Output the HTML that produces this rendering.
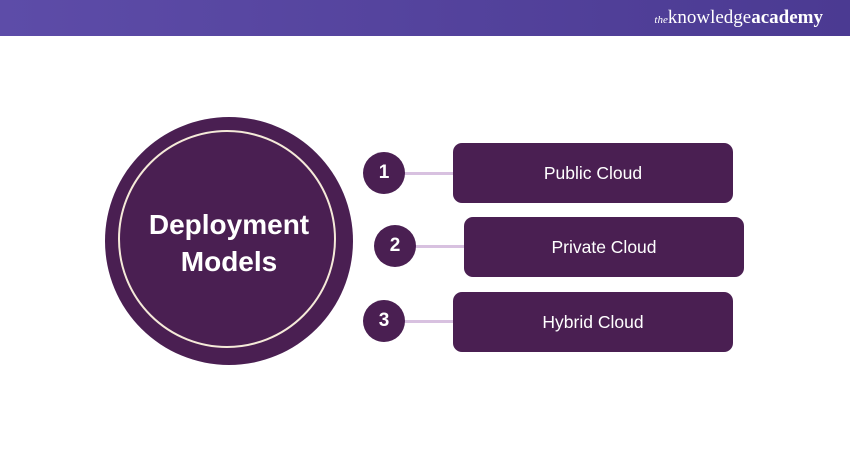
<!DOCTYPE html>
<html><head><style>
body{margin:0;width:850px;height:450px;background:#fff;overflow:hidden;font-family:"Liberation Sans",sans-serif;position:relative}
.hdr{position:absolute;left:0;top:0;width:850px;height:36px;background:linear-gradient(90deg,#5d4ca8,#4b3a92)}
.logo{position:absolute;right:27px;top:7px;color:#fff;font-family:"Liberation Serif",serif;font-size:19px}
.logo i{font-size:11px}
.logo b{font-weight:bold}
.box{position:absolute;width:280px;height:60px;background:#4a1f52;border-radius:9px;color:#fff;font-size:17.5px;display:flex;align-items:center;justify-content:center}
.num{position:absolute;width:42px;height:42px;border-radius:50%;background:#4a1f52;color:#fff;font-size:19px;font-weight:bold;display:flex;align-items:center;justify-content:center}
.ln{position:absolute;height:3px;background:#d8c1e0}
</style></head><body>
<div class="hdr"><div class="logo"><i>the</i>knowledge<b>academy</b></div></div>
<div style="position:absolute;left:105px;top:117px;width:248px;height:248px;border-radius:50%;background:#4a1f52"></div>
<div style="position:absolute;left:118px;top:130px;width:218px;height:218px;border-radius:50%;border:2px solid #f5ead9;box-sizing:border-box"></div>
<div style="position:absolute;left:105px;top:206px;width:248px;text-align:center;color:#fff;font-weight:bold;font-size:28px;line-height:37px">Deployment<br>Models</div>
<div class="ln" style="left:400px;top:172px;width:55px"></div>
<div class="ln" style="left:410px;top:245px;width:56px"></div>
<div class="ln" style="left:400px;top:320px;width:55px"></div>
<div class="num" style="left:363px;top:152px">1</div>
<div class="num" style="left:374px;top:225px">2</div>
<div class="num" style="left:363px;top:300px">3</div>
<div class="box" style="left:453px;top:143px">Public Cloud</div>
<div class="box" style="left:464px;top:217px">Private Cloud</div>
<div class="box" style="left:453px;top:292px">Hybrid Cloud</div>
</body></html>
